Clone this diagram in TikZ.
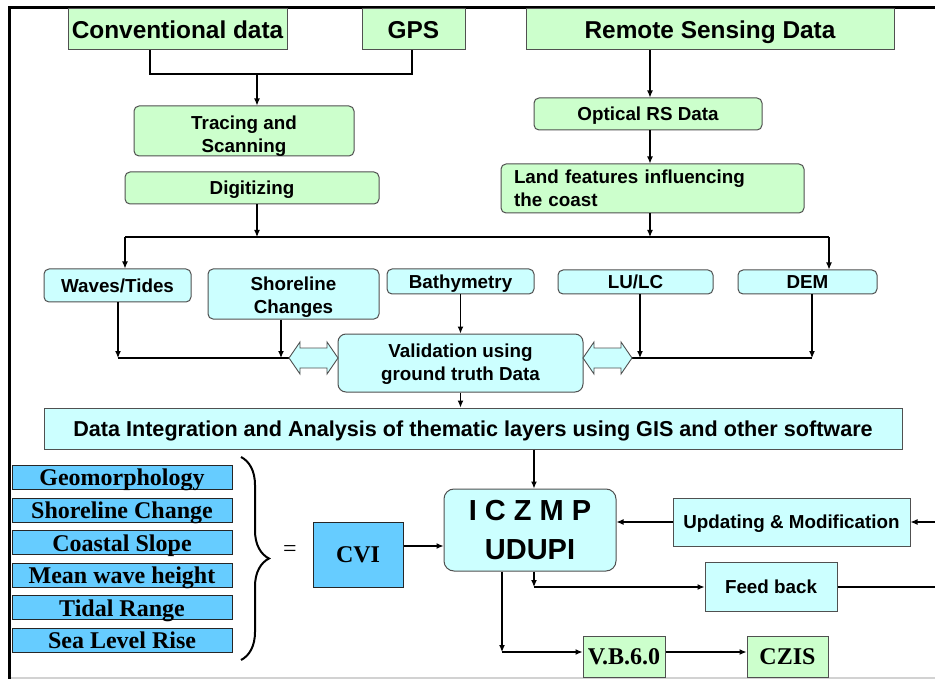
\documentclass[tikz,border=0pt]{standalone}
\usepackage{fontspec}
\setmainfont{Liberation Serif}
\setsansfont{Liberation Sans}
\usetikzlibrary{arrows.meta,decorations.pathreplacing,calc}
\definecolor{gfill}{HTML}{CCFFCC}
\definecolor{cfill}{HTML}{CCFFFF}
\definecolor{bfill}{HTML}{66CCFF}
\definecolor{edgec}{HTML}{505050}
\newcommand{\dblarr}[1]{%
  \draw[draw=edgec,line width=0.9pt,fill=cfill]
   (#1,358) -- ++(11,-16) -- ++(0,6) -- ++(27,0) -- ++(0,-6) -- ++(11,16)
   -- ++(-11,16) -- ++(0,-6) -- ++(-27,0) -- ++(0,6) -- cycle;}
\begin{document}
\begin{tikzpicture}[x=1pt,y=-1pt,
 base/.style={draw=edgec,line width=1pt,inner sep=0pt,align=center,
   font=\sffamily\bfseries\fontsize{18.8}{23}\selectfont},
 one/.style={text depth=0pt},
 two/.style={text depth=0pt,text height=#1},
 gbox/.style={base,fill=gfill},
 cbox/.style={base,fill=cfill},
 big/.style={font=\sffamily\bfseries\fontsize{24.4}{26}\selectfont},
 tbox/.style={draw=black!85,line width=1pt,fill=bfill,inner sep=0pt,
   font=\rmfamily\bfseries\fontsize{24}{26}\selectfont},
 lbox/.style={tbox,text height=17pt,text depth=0pt},
 tgbox/.style={draw=edgec,line width=1pt,fill=gfill,inner sep=0pt,
   font=\rmfamily\bfseries\fontsize{24}{26}\selectfont},
 rnd/.style={rounded corners=5pt},
 sz/.style 2 args={minimum width=#1pt,minimum height=#2pt},
 arr/.style={line width=1.1pt,-{Latex[length=7pt,width=6pt]}},
 ln/.style={line width=1.1pt}]
\useasboundingbox (0,0) rectangle (935,679);
% frame
\draw[gray!35,line width=2pt] (9.5,677.5) -- (935,677.5);
\draw[line width=3pt] (9.5,679) -- (9.5,7.5) -- (935,7.5);

% top row
\node[gbox,big,one,sz={219}{41}] (conv) at (177.5,29.5) {Conventional data};
\node[gbox,big,one,sz={103}{41}] (gps) at (413.5,29.5) {GPS};
\node[gbox,big,one,sz={368}{41}] (rs) at (710,29.5) {Remote Sensing Data};

% second level
\node[gbox,rnd,two=42.4pt,sz={220}{50}] (trace) at (244,131) {Tracing and\\Scanning};
\node[gbox,rnd,one,sz={254}{32}] (digit) at (252,188) {Digitizing};
\node[gbox,rnd,one,sz={228}{32}] (optical) at (648,114) {Optical RS Data};
\node[gbox,rnd,text width=277pt,inner xsep=13pt,align=left,minimum height=49pt] (land) at (652.5,188.5) {Land features influencing\\the coast};

% thematic row
\node[cbox,rnd,one,sz={147}{33}] (waves) at (117.5,285.5) {Waves/Tides};
\node[cbox,rnd,two=39.4pt,sz={171}{50}] (shore) at (293.5,294) {Shoreline\\Changes};
\node[cbox,rnd,one,sz={147}{25}] (bathy) at (460.5,281.5) {Bathymetry};
\node[cbox,rnd,one,sz={155}{24}] (lulc) at (635.5,282) {LU/LC};
\node[cbox,rnd,one,sz={139}{24}] (dem) at (807.5,282) {DEM};
\node[cbox,rounded corners=8pt,two=35.4pt,sz={245}{58}] (valid) at (460.5,363) {Validation using\\ground truth Data};
\node[cbox,one,sz={858}{41},font=\sffamily\bfseries\fontsize{21.6}{24}\selectfont] (integ) at (473,428.5) {Data Integration and Analysis of thematic layers using GIS and other software};

% lower part
\node[cbox,rounded corners=10pt,sz={172}{82},font=\sffamily\bfseries\fontsize{29}{39}\selectfont] (iczmp) at (530,530) {I C Z M P\\UDUPI};
\node[cbox,one,sz={237}{48}] (upd) at (791.5,522) {Updating \& Modification};
\node[cbox,one,sz={132}{49}] (feed) at (771,586.5) {Feed back};
\node[tgbox,sz={82}{41}] (vb) at (624,656.5) {V.B.6.0};
\node[tgbox,sz={81}{41}] (czis) at (787.5,656.5) {CZIS};

\node[lbox,sz={220}{24}] (p1) at (122,477) {Geomorphology};
\node[lbox,sz={220}{24}] (p2) at (122,510) {Shoreline Change};
\node[lbox,sz={220}{24}] (p3) at (122,542.5) {Coastal Slope};
\node[lbox,sz={220}{24}] (p4) at (122,575) {Mean wave height};
\node[lbox,sz={220}{24}] (p5) at (122,607.5) {Tidal Range};
\node[lbox,sz={220}{24}] (p6) at (122,640) {Sea Level Rise};
\node[tbox,sz={90}{65}] (cvi) at (358,554.5) {CVI};
\node[font=\rmfamily\fontsize{24}{24}\selectfont,inner sep=0pt] (eq) at (290,551) {=};
\draw[line width=2pt,decorate,decoration={brace,amplitude=28pt}] (241,457) -- (241,660);

% connectors: top
\coordinate (j1) at (257,74);
\draw[ln] ([xshift=-27.5pt]conv.south) |- (j1) -| ([xshift=-1.5pt]gps.south);
\draw[arr] (j1) -- (j1 |- trace.north);
\coordinate (fL) at (125,237);
\coordinate (fR) at (829,237);
\coordinate (cR) at (650,237);
\draw[arr] (digit.south -| j1) -- (j1 |- fL);
\draw[ln] (fL) -- (fR);
\draw[arr] (fL) -- (fL |- waves.north);
\draw[arr] (fR) -- (fR |- dem.north);
\draw[arr] (rs.south -| cR) -- (optical.north -| cR);
\draw[arr] (optical.south -| cR) -- (land.north -| cR);
\draw[arr] (land.south -| cR) -- (cR);

% thematic to validation
\coordinate (m1) at (118,358);
\coordinate (m2) at (281,358);
\coordinate (m3) at (640,358);
\coordinate (m4) at (812,358);
\coordinate (dLl) at (289,358);
\coordinate (dRr) at (632,358);
\draw[arr] (waves.south -| m1) -- (m1);
\draw[arr] (shore.south -| m2) -- (m2);
\draw[ln] (m1) -- (dLl);
\draw[arr] (lulc.south -| m3) -- (m3);
\draw[arr] (dem.south -| m4) -- (m4);
\draw[ln] (dRr) -- (m4);
\dblarr{289}
\dblarr{583}
\draw[arr] (bathy.south) -- (valid.north);
\draw[arr] (valid.south) -- (valid.south |- integ.north);

% lower connectors
\draw[arr] ([xshift=4pt]iczmp.north |- integ.south) -- ([xshift=4pt]iczmp.north);
\coordinate (rE1) at (935,522);
\coordinate (rE2) at (935,587);
\draw[arr] (rE1) -- (upd.east);
\draw[arr] (upd.west) -- (upd.west -| iczmp.east);
\coordinate (fb) at (534,587);
\draw[arr] ([xshift=4pt]iczmp.south) -- (fb);
\draw[arr] (fb) -- (fb -| feed.west);
\draw[ln] (feed.east |- rE2) -- (rE2);
\coordinate (vbj) at (502,652);
\draw[arr] (iczmp.south -| vbj) -- (vbj);
\draw[arr] (vbj) -- (vbj -| vb.west);
\draw[arr] (vb.east |- vbj) -- (czis.west |- vbj);
\coordinate (ca) at ([yshift=8.5pt]cvi.east);
\draw[arr] (ca) -- (ca -| iczmp.west);
\end{tikzpicture}
\end{document}
